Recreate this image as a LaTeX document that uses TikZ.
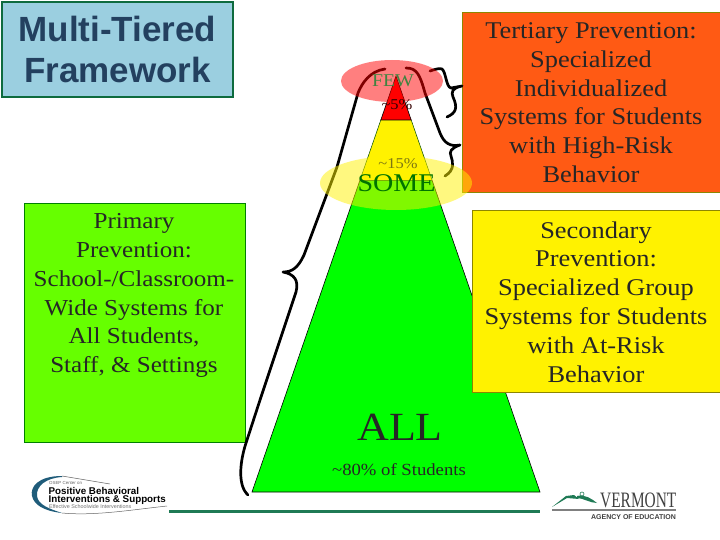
\documentclass[tikz,border=0pt]{standalone}
\usepackage{fontspec}
\setmainfont[FakeStretch=1.1]{Liberation Serif}
\newfontfamily\headfont{Liberation Sans}
\newfontfamily\logofont{Liberation Sans}
\newfontfamily\vtfont[FakeStretch=0.7]{Liberation Serif}
\definecolor{titleblue}{HTML}{9BCFE0}
\definecolor{titleink}{HTML}{23405F}
\definecolor{framegreen}{HTML}{0E6B3E}
\definecolor{primgreen}{HTML}{66FF00}
\definecolor{orangebox}{HTML}{FF5A14}
\definecolor{rulegreen}{HTML}{1F7A55}
\definecolor{logoblue}{HTML}{1F5C7A}
\tikzset{
  x=1pt,y=-1pt,
  bodytext/.style={align=center,font=\fontsize{24}{28.8}\selectfont,text=black!85},
  panel/.style={draw=#1,line width=0.8pt},
  bracket/.style={draw=black,line width=2.7pt,line cap=round,line join=round},
  tier/.style={draw=black,line width=0.6pt},
  plabel/.style={inner sep=0pt,anchor=center},
}
\begin{document}
\begin{tikzpicture}
\useasboundingbox (0,0) rectangle (720,540);
\fill[white] (0,0) rectangle (720,540);
% pyramid
\path[fill=green,tier] (252,492) -- (360,180) -- (432,180) -- (540,492) -- cycle;
\fill[yellow] (360,180) -- (380.8,120) -- (411.2,120) -- (432,180) -- cycle;
\draw[black!70!green,line width=0.5pt] (360,180) -- (380.8,120) (432,180) -- (411.2,120);
\draw[black!60!green,line width=0.5pt] (360,180) -- (432,180);
\path[fill=red,tier] (380.8,120) -- (396,76) -- (411.2,120) -- cycle;
% boxes
\node[panel=framegreen,fill=titleblue,line width=2pt,minimum width=231,minimum height=95,inner sep=0pt,align=center,
  font=\headfont\bfseries\fontsize{35}{41}\selectfont,text=titleink] (title) at (117.5,49.5) {Multi-Tiered\\Framework};
\node[panel=green!50!black,fill=primgreen,minimum width=221,minimum height=239,inner sep=0pt] (prim) at (134.5,322.5) {};
\node[bodytext,font=\fontsize{22.8}{28.8}\selectfont,anchor=north] (primtext) at (134,210) {Primary\\Prevention:\\School-/Classroom-\\Wide Systems for\\All Students,\\Staff, \& Settings};
\node[panel=olive,fill=orangebox,minimum width=262,minimum height=180,inner sep=0pt] (tert) at (593,102) {};
\node[bodytext,anchor=north] (terttext) at (591,19) {Tertiary Prevention:\\Specialized\\Individualized\\Systems for Students\\with High-Risk\\Behavior};
\node[panel=olive,fill=yellow,minimum width=250,minimum height=182,inner sep=0pt] (sec) at (597,301) {};
\node[bodytext,anchor=north] (sectext) at (596,218) {Secondary\\Prevention:\\Specialized Group\\Systems for Students\\with At-Risk\\Behavior};
% braces
\draw[bracket] (385,69) .. controls (370,71) and (362,83) .. (358,93)
  -- (337,167) -- (304,255) .. controls (298,268) and (292,272) .. (283,272)
  .. controls (294,274) and (299,280) .. (296,292) -- (260,400) -- (247,440)
  .. controls (240,460) and (237,485) .. (248,495);
\draw[bracket] (406,68) .. controls (417,68) and (420,75) .. (425,93)
  -- (440,133) .. controls (444,143) and (450,147) .. (460,145)
  .. controls (451,148) and (449,152) .. (451,156)
  .. controls (453,162) and (455,170) .. (445,176);
\draw[bracket] (430,71) .. controls (436,69) and (440,68) .. (442,69)
  .. controls (446,72) and (446,87) .. (451,88) -- (462,86)
  .. controls (452,88) and (451,92) .. (453,97)
  .. controls (458,108) and (456,113) .. (447,117);
% translucent ovals
\fill[red,fill opacity=0.5] (392,81) ellipse [x radius=51,y radius=21];
\fill[yellow,fill opacity=0.5] (396,183) ellipse [x radius=76,y radius=27];
% labels on the ovals
\node[plabel,font=\fontsize{18}{18}\selectfont,text=green!35!black!75] (few) at (393,81) {FEW};
\node[plabel,font=\fontsize{15}{15}\selectfont,text=black!80!red] (five) at (397,105) {\char`~5\%};
\node[plabel,font=\fontsize{15}{15}\selectfont,text=olive!85!black] (fifteen) at (398,164) {\char`~15\%};
\node[plabel,font=\fontsize{25.5}{26}\selectfont,text=green!45!black] (some) at (396.5,183) {SOME};
\node[plabel,font=\fontsize{40}{40}\selectfont,text=black!85] (all) at (400,427) {ALL};
\node[plabel,font=\fontsize{17}{17}\selectfont,text=black!85] (eighty) at (399,470) {\char`~80\% of Students};
% rule
\fill[rulegreen] (169,509.5) rectangle (540,512.5);
% PBIS logo
\fill[logoblue] (62,476) .. controls (38,476) and (30,487) .. (32,496)
  .. controls (34,505) and (44,511) .. (62,513) .. controls (50,509) and (38,505) .. (37,496)
  .. controls (36,486) and (46,478) .. (62,477) -- cycle;
\draw[black!60,line width=0.5pt] (62,476) -- (110,484) (62,513) .. controls (95,516) and (130,510) .. (167,506);
\node[plabel,anchor=west,font=\logofont\fontsize{4.4}{5}\selectfont,text=black!60] (osep) at (49,483) {OSEP Center on};
\node[plabel,anchor=west,font=\logofont\bfseries\fontsize{9.8}{10}\selectfont,text=black] (pb) at (48.5,490.5) {Positive Behavioral};
\node[plabel,anchor=west,font=\logofont\bfseries\fontsize{9.8}{10}\selectfont,text=black] (is) at (48.5,499.5) {Interventions \& Supports};
\node[plabel,anchor=west,font=\logofont\fontsize{5.4}{6}\selectfont,text=black!55] (eff) at (49,507) {Effective Schoolwide Interventions};
% Vermont logo
\fill[rulegreen] (552,507) -- (566,496) -- (574,495) -- (579,499) -- (567,498) -- cycle;
\fill[rulegreen] (577,498) .. controls (583,498) and (590,503) .. (597,503) .. controls (592,499) and (585,494) .. (577,496) -- cycle;
\draw[rulegreen,line width=0.6pt] (582,494) circle [radius=2];
\node[plabel,anchor=west,font=\vtfont\fontsize{22}{22}\selectfont,text=black!75] (vt) at (600,500) {VERMONT};
\fill[black!50] (552,509) rectangle (676,510.5);
\node[plabel,anchor=east,font=\logofont\bfseries\fontsize{7}{7}\selectfont,text=black!75] (aoe) at (676,517) {AGENCY OF EDUCATION};
\end{tikzpicture}
\end{document}
